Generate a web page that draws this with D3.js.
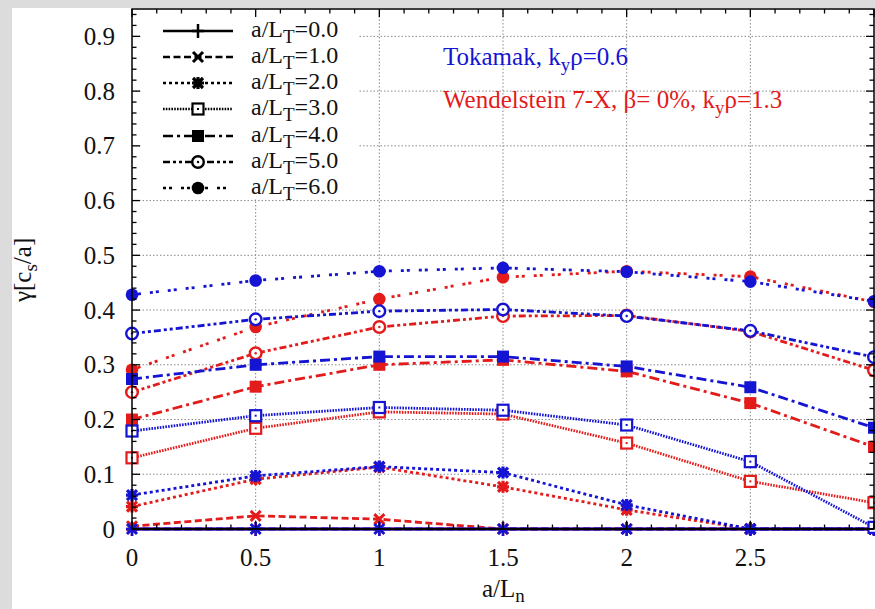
<!DOCTYPE html>
<html><head><meta charset="utf-8">
<script src="https://cdn.jsdelivr.net/npm/d3@7/dist/d3.min.js"></script>
<style>
html,body{margin:0;padding:0;background:#dcdcdc;}
svg{display:block;}
</style></head>
<body>
<svg id="chart" width="875" height="609"></svg>
<script>
// ---- data ----
const aLn = [0, 0.5, 1, 1.5, 2, 2.5, 3];
const aLTLabels = ["0.0", "1.0", "2.0", "3.0", "4.0", "5.0", "6.0"];
const xTicks = [0, 0.5, 1, 1.5, 2, 2.5];
const yTicks = [0, 0.1, 0.2, 0.3, 0.4, 0.5, 0.6, 0.7, 0.8, 0.9];

// Tokamak, ky rho = 0.6 (blue)
const tokLT0 = [0, 0, 0, 0, 0, 0, 0];
const tokLT1 = [0, 0, 0, 0, 0, 0, 0];
const tokLT2 = [0.062, 0.097, 0.114, 0.103, 0.044, 0.0, 0.0];
const tokLT3 = [0.179, 0.207, 0.222, 0.217, 0.190, 0.123, 0.003];
const tokLT4 = [0.274, 0.300, 0.315, 0.315, 0.297, 0.259, 0.185];
const tokLT5 = [0.357, 0.383, 0.398, 0.401, 0.389, 0.362, 0.314];
const tokLT6 = [0.428, 0.454, 0.471, 0.477, 0.470, 0.452, 0.416];

// Wendelstein 7-X, beta = 0%, ky rho = 1.3 (red)
const w7xLT0 = [0, 0, 0, 0, 0, 0, 0];
const w7xLT1 = [0.005, 0.024, 0.018, 0.0, 0.0, 0.0, 0.0];
const w7xLT2 = [0.041, 0.091, 0.113, 0.077, 0.035, 0.0, 0.0];
const w7xLT3 = [0.130, 0.184, 0.214, 0.210, 0.157, 0.087, 0.048];
const w7xLT4 = [0.200, 0.260, 0.300, 0.309, 0.288, 0.230, 0.150];
const w7xLT5 = [0.250, 0.321, 0.369, 0.389, 0.390, 0.361, 0.290];
const w7xLT6 = [0.291, 0.369, 0.420, 0.460, 0.471, 0.461, 0.415];

const tokSeries = [tokLT0, tokLT1, tokLT2, tokLT3, tokLT4, tokLT5, tokLT6];
const w7xSeries = [w7xLT0, w7xLT1, w7xLT2, w7xLT3, w7xLT4, w7xLT5, w7xLT6];

const blue = "#1414d2";
const red = "#e31b1b";
const FONT = "'Liberation Serif', 'Times New Roman', Tinos, Times, 'DejaVu Serif', 'Noto Serif', serif";

// ---- layout ----
const svg = d3.select("#chart").style("font-family", FONT);
svg.append("rect").attr("x", 12).attr("y", 8).attr("width", 875 - 12).attr("height", 609 - 8).attr("fill", "#fff");

const L = 132, R = 874, T = 9, B = 529;
const x = d3.scaleLinear().domain([0, 3]).range([L, R]);
const y = d3.scaleLinear().domain([0, 0.95]).range([B, T]);

// grid
const grid = svg.append("g").attr("stroke", "#8a8a8a").attr("stroke-width", 1).attr("stroke-dasharray", "1.5,2");
grid.selectAll("line.gx").data(xTicks.filter(d => d > 0)).join("line")
  .attr("x1", d => x(d)).attr("x2", d => x(d)).attr("y1", T).attr("y2", B);
grid.selectAll("line.gy").data(yTicks.filter(d => d > 0)).join("line")
  .attr("x1", L).attr("x2", R).attr("y1", d => y(d)).attr("y2", d => y(d));

// legend background (opaque key box)
svg.append("rect").attr("x", 142).attr("y", T + 1).attr("width", 216).attr("height", 189).attr("fill", "#fff");

// line styles & markers
const dashes = [null, "7,3.5", "3,3", "1.6,1.2", "10,4,3,4", "7,3,3,3,3,3", "3,3,3,9"];

function marker(g, type, color) {
  switch (type) {
    case 0:
      g.append("path").attr("d", "M-6,0H6M0,-7V7").attr("stroke", color).attr("stroke-width", 2.5).attr("fill", "none");
      break;
    case 1:
      g.append("path").attr("d", "M-5,-5L5,5M-5,5L5,-5").attr("stroke", color).attr("stroke-width", 3).attr("fill", "none");
      break;
    case 2:
      g.append("path").attr("d", "M-5,-5L5,5M-5,5L5,-5M-6,0H6M0,-6V6").attr("stroke", color).attr("stroke-width", 3.2).attr("fill", "none");
      break;
    case 3:
      g.append("rect").attr("x", -5.5).attr("y", -5.5).attr("width", 11).attr("height", 11).attr("stroke", color).attr("stroke-width", 2.2).attr("fill", "#fff");
      g.append("rect").attr("x", -1).attr("y", -1).attr("width", 2).attr("height", 2).attr("fill", color);
      break;
    case 4:
      g.append("rect").attr("x", -6).attr("y", -6).attr("width", 12).attr("height", 12).attr("fill", color);
      break;
    case 5:
      g.append("circle").attr("r", 5.8).attr("stroke", color).attr("stroke-width", 2.4).attr("fill", "#fff");
      g.append("circle").attr("r", 1.2).attr("fill", color);
      break;
    case 6:
      g.append("circle").attr("r", 6.3).attr("fill", color);
      break;
  }
}

const line = d3.line().x((d, i) => x(aLn[i])).y(d => y(d));

function drawSeries(seriesList, color) {
  const g = svg.append("g");
  seriesList.forEach((vals, k) => {
    g.append("path").datum(vals).attr("d", line)
      .attr("fill", "none").attr("stroke", color).attr("stroke-width", 2.8)
      .attr("stroke-dasharray", dashes[k]);
  });
  seriesList.forEach((vals, k) => {
    vals.forEach((v, i) => {
      const m = g.append("g").attr("transform", `translate(${x(aLn[i])},${y(v)})`);
      marker(m, k, color);
    });
  });
}
drawSeries(w7xSeries, red);
drawSeries(tokSeries, blue);

// frame & ticks
const frame = svg.append("g").attr("stroke", "#000").attr("fill", "none");
frame.append("rect").attr("x", L).attr("y", T).attr("width", R - L).attr("height", B - T).attr("stroke-width", 1.5);
frame.append("line").attr("x1", L).attr("x2", R).attr("y1", B).attr("y2", B).attr("stroke-width", 2);

const xMinor = d3.range(0, 31).map(i => i / 10);
const yMinor = d3.range(0, 48).map(i => i / 50);
xMinor.forEach(v => {
  const major = Math.abs(v * 2 - Math.round(v * 2)) < 1e-6;
  const len = major ? 8 : 4.5;
  frame.append("line").attr("x1", x(v)).attr("x2", x(v)).attr("y1", B).attr("y2", B - len).attr("stroke-width", 1.3);
  frame.append("line").attr("x1", x(v)).attr("x2", x(v)).attr("y1", T).attr("y2", T + len).attr("stroke-width", 1.3);
});
yMinor.forEach(v => {
  const major = Math.abs(v * 10 - Math.round(v * 10)) < 1e-6;
  const len = major ? 8 : 4.5;
  frame.append("line").attr("x1", L).attr("x2", L + len).attr("y1", y(v)).attr("y2", y(v)).attr("stroke-width", 1.3);
  frame.append("line").attr("x1", R).attr("x2", R - len).attr("y1", y(v)).attr("y2", y(v)).attr("stroke-width", 1.3);
});

// tick labels
const fmt = d => (d === 0 ? "0" : d3.format("")(d));
svg.append("g").selectAll("text").data(xTicks).join("text")
  .attr("x", d => x(d)).attr("y", 566).attr("text-anchor", "middle")
  .attr("font-size", 25).attr("fill", "#111").text(fmt);
svg.append("g").selectAll("text").data(yTicks).join("text")
  .attr("x", 115).attr("y", d => y(d) + 8.5).attr("text-anchor", "end")
  .attr("font-size", 25).attr("fill", "#111").text(fmt);

// axis titles
const xt = svg.append("text").attr("x", 482).attr("y", 597).attr("font-size", 25).attr("fill", "#111");
xt.append("tspan").text("a/L");
xt.append("tspan").attr("dy", 5).attr("font-size", 19).text("n");

const yt = svg.append("text").attr("transform", "translate(31,302) rotate(-90)").attr("font-size", 25).attr("fill", "#111");
yt.append("tspan").text("γ[c");
yt.append("tspan").attr("dy", 6).attr("font-size", 19).text("s");
yt.append("tspan").attr("dy", -6).text("/a]");

// legend
const legRowY = [31, 57, 83, 109, 136, 162, 188];
aLTLabels.forEach((lab, k) => {
  const ly = legRowY[k];
  svg.append("line").attr("x1", 163).attr("x2", 233).attr("y1", ly).attr("y2", ly)
    .attr("stroke", "#000").attr("stroke-width", 2.6).attr("stroke-dasharray", dashes[k]);
  const m = svg.append("g").attr("transform", `translate(198,${ly})`);
  marker(m, k, "#000");
  const t = svg.append("text").attr("x", 251).attr("y", ly + 6).attr("font-size", 24).attr("fill", "#111");
  t.append("tspan").text("a/L");
  t.append("tspan").attr("dy", 6).attr("font-size", 19).text("T");
  t.append("tspan").attr("dy", -6).text("=" + lab);
});

// annotations
const a1 = svg.append("text").attr("x", 443).attr("y", 65).attr("font-size", 25).attr("fill", blue);
a1.append("tspan").text("Tokamak, k");
a1.append("tspan").attr("dy", 6).attr("font-size", 19).text("y");
a1.append("tspan").attr("dy", -6).text("ρ=0.6");

const a2 = svg.append("text").attr("x", 443).attr("y", 108).attr("font-size", 25).attr("fill", red);
a2.append("tspan").text("Wendelstein 7-X, β= 0%, k");
a2.append("tspan").attr("dy", 6).attr("font-size", 19).text("y");
a2.append("tspan").attr("dy", -6).text("ρ=1.3");
</script>
</body></html>
